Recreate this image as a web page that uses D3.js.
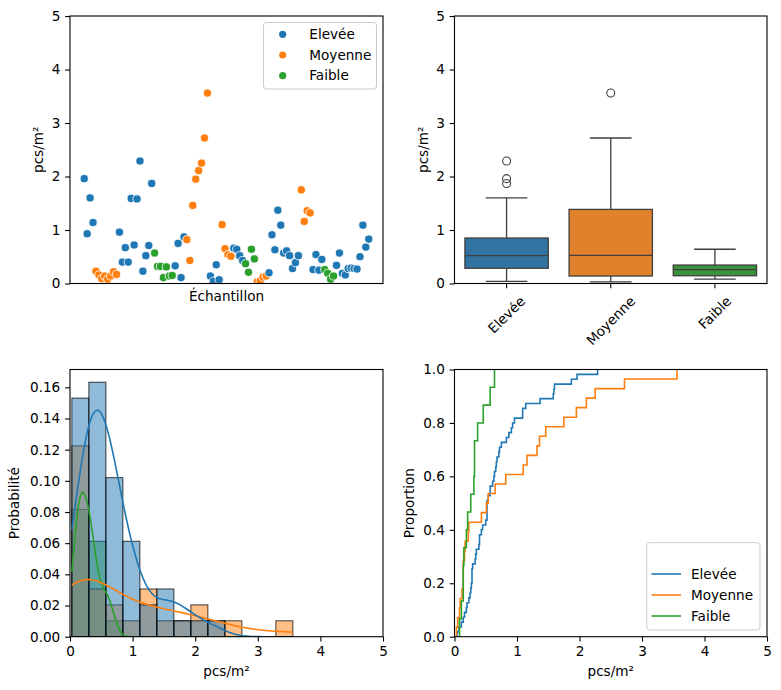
<!DOCTYPE html>
<html><head><meta charset="utf-8">
<script src="https://cdn.jsdelivr.net/npm/d3@7"></script>
<style>body{margin:0;background:#fff}</style>
</head><body><svg id="c" width="781" height="690"></svg>
<script>
// ---------------- data ----------------
const categories = ["Elevée", "Moyenne", "Faible"];
const categoryColors = ["#1f77b4", "#ff7f0e", "#2ca02c"];
const boxColors = ["#3274a1", "#e1812c", "#3a923a"];
// category index of each sample, in sample order
const sampleCategory = [
  0,0,0,0,
  1,1,1,1,1,1,1,1,
  0,0,0,0,0,0,0,0,0,0,0,0,
  2,2,2,2,2,2,2,
  0,0,0,0,
  1,1,1,1,1,1,1,1,
  0,0,0,0,
  1,1,1,1,
  0,0,0,0,
  2,2,2,2,
  1,1,1,1,
  0,0,0,0,0,0,0,0,0,0,0,
  1,1,1,1,
  0,0,0,0,
  2,2,2,2,
  0,0,0,0,0,0,0,0,0,0,0,0
];
// pcs/m² of each sample
const sampleValue = [
  1.96,0.93,1.60,1.14,
  0.23,0.16,0.09,0.14,0.08,0.14,0.22,0.17,
  0.96,0.40,0.67,0.40,1.59,0.72,1.58,2.29,0.23,0.52,0.71,1.87,
  0.57,0.32,0.32,0.11,0.31,0.14,0.15,
  0.33,0.75,0.11,0.87,
  0.82,0.43,1.46,1.95,2.11,2.25,2.72,3.56,
  0.14,0.04,0.35,0.07,
  1.10,0.65,0.54,0.51,
  0.66,0.64,0.52,0.43,
  0.37,0.21,0.64,0.46,
  0.03,0.05,0.12,0.14,
  0.20,0.91,0.63,1.37,1.09,0.57,0.61,0.52,0.28,0.39,0.52,
  1.75,1.16,1.36,1.32,
  0.26,0.54,0.25,0.45,
  0.26,0.19,0.08,0.14,
  0.34,0.57,0.19,0.16,0.28,0.29,0.28,0.27,0.50,1.09,0.68,0.83
];
const valueTicks = [0, 1, 2, 3, 4, 5];
const probTicks = [0, 0.02, 0.04, 0.06, 0.08, 0.10, 0.12, 0.14, 0.16];
const propTicks = [0, 0.2, 0.4, 0.6, 0.8, 1.0];
const histBinCount = 13;
const labelValue = "pcs/m²";
const labelSample = "Échantillon";
const labelProb = "Probabilité";
const labelProp = "Proportion";

// ---------------- setup ----------------
const FONT = "DejaVu Sans, sans-serif";
const FS = 13.6;
const svg = d3.select("#c");
svg.append("rect").attr("width", 781).attr("height", 690).attr("fill", "#fff");
const TL = {x: 70, y: 16, w: 313, h: 267.5};
const TR = {x: 454.5, y: 16, w: 312.5, h: 267.5};
const BL = {x: 70, y: 369.5, w: 313, h: 267.2};
const BR = {x: 454.5, y: 369.5, w: 312.5, h: 267.2};
const N = sampleValue.length;
const groups = categories.map((c, k) => sampleValue.filter((v, i) => sampleCategory[i] === k));

const defs = svg.append("defs");
function clip(id, p) {
  defs.append("clipPath").attr("id", id).append("rect")
    .attr("x", p.x).attr("y", p.y).attr("width", p.w).attr("height", p.h);
  return "url(#" + id + ")";
}
function styleAxis(g) {
  g.select(".domain").remove();
  g.selectAll("line").attr("stroke", "#000").attr("stroke-width", 1.1);
  g.selectAll("text").attr("font-family", FONT).attr("font-size", FS).attr("fill", "#000");
}
function frame(p) {
  svg.append("rect").attr("x", p.x).attr("y", p.y).attr("width", p.w).attr("height", p.h)
    .attr("fill", "none").attr("stroke", "#000").attr("stroke-width", 1.1);
}
function yLabel(txt, x, p) {
  svg.append("text").attr("transform", `translate(${x},${p.y + p.h / 2}) rotate(-90)`)
    .attr("text-anchor", "middle").attr("font-family", FONT).attr("font-size", FS).text(txt);
}
function xLabel(txt, y, p) {
  svg.append("text").attr("x", p.x + p.w / 2).attr("y", y)
    .attr("text-anchor", "middle").attr("font-family", FONT).attr("font-size", FS).text(txt);
}
const TK = 4.86, PAD = 4.86;

// ---------------- top-left: scatter ----------------
{
  const x = d3.scaleLinear().domain([-0.05 * (N - 1), 1.05 * (N - 1)]).range([TL.x, TL.x + TL.w]);
  const y = d3.scaleLinear().domain([0, 5]).range([TL.y + TL.h, TL.y]);
  const g = svg.append("g").attr("clip-path", clip("cTL", TL));
  g.selectAll("circle").data(sampleValue).join("circle")
    .attr("cx", (d, i) => x(i)).attr("cy", d => y(d)).attr("r", 4.1)
    .attr("fill", (d, i) => categoryColors[sampleCategory[i]])
    .attr("stroke", "#fff").attr("stroke-width", 0.8);
  const ay = svg.append("g").attr("transform", `translate(${TL.x},0)`)
    .call(d3.axisLeft(y).tickValues(valueTicks).tickFormat(d3.format("d")).tickSize(TK).tickPadding(PAD));
  styleAxis(ay);
  frame(TL);
  yLabel(labelValue, 43, TL);
  xLabel(labelSample, 300.5, TL);
  // legend
  const lg = svg.append("g");
  lg.append("rect").attr("x", 263.5).attr("y", 22.5).attr("width", 113).attr("height", 66.5)
    .attr("rx", 3).attr("fill", "#fff").attr("fill-opacity", 0.8).attr("stroke", "#cccccc");
  categories.forEach((c, k) => {
    const cy = 34.3 + k * 20.7;
    lg.append("circle").attr("cx", 282.7).attr("cy", cy).attr("r", 3.6).attr("fill", categoryColors[k]);
    lg.append("text").attr("x", 309.3).attr("y", cy).attr("dy", "0.35em")
      .attr("font-family", FONT).attr("font-size", FS).text(c);
  });
}

// ---------------- top-right: box plot ----------------
{
  const x = d3.scaleBand().domain(categories).range([TR.x, TR.x + TR.w]).padding(0);
  const y = d3.scaleLinear().domain([0, 5]).range([TR.y + TR.h, TR.y]);
  const bw = x.bandwidth() * 0.8;
  const LC = "#3f3f3f", LW = 1.3;
  const g = svg.append("g").attr("clip-path", clip("cTR", TR));
  categories.forEach((c, k) => {
    const vals = groups[k].slice().sort(d3.ascending);
    const q1 = d3.quantile(vals, 0.25), med = d3.quantile(vals, 0.5), q3 = d3.quantile(vals, 0.75);
    const iqr = q3 - q1;
    const lo = d3.min(vals.filter(v => v >= q1 - 1.5 * iqr));
    const hi = d3.max(vals.filter(v => v <= q3 + 1.5 * iqr));
    const out = vals.filter(v => v < lo || v > hi);
    const cx = x(c) + x.bandwidth() / 2;
    g.append("line").attr("x1", cx).attr("x2", cx).attr("y1", y(q1)).attr("y2", y(lo)).attr("stroke", LC).attr("stroke-width", LW);
    g.append("line").attr("x1", cx).attr("x2", cx).attr("y1", y(q3)).attr("y2", y(hi)).attr("stroke", LC).attr("stroke-width", LW);
    g.append("line").attr("x1", cx - bw / 4).attr("x2", cx + bw / 4).attr("y1", y(lo)).attr("y2", y(lo)).attr("stroke", LC).attr("stroke-width", LW);
    g.append("line").attr("x1", cx - bw / 4).attr("x2", cx + bw / 4).attr("y1", y(hi)).attr("y2", y(hi)).attr("stroke", LC).attr("stroke-width", LW);
    g.append("rect").attr("x", cx - bw / 2).attr("width", bw).attr("y", y(q3)).attr("height", y(q1) - y(q3))
      .attr("fill", boxColors[k]).attr("stroke", LC).attr("stroke-width", LW);
    g.append("line").attr("x1", cx - bw / 2).attr("x2", cx + bw / 2).attr("y1", y(med)).attr("y2", y(med)).attr("stroke", LC).attr("stroke-width", LW);
    g.selectAll(null).data(out).join("circle").attr("cx", cx).attr("cy", d => y(d)).attr("r", 4)
      .attr("fill", "none").attr("stroke", LC).attr("stroke-width", 1.1);
  });
  const ay = svg.append("g").attr("transform", `translate(${TR.x},0)`)
    .call(d3.axisLeft(y).tickValues(valueTicks).tickFormat(d3.format("d")).tickSize(TK).tickPadding(PAD));
  styleAxis(ay);
  const ax = svg.append("g").attr("transform", `translate(0,${TR.y + TR.h})`)
    .call(d3.axisBottom(x).tickSize(TK).tickPadding(PAD));
  styleAxis(ax);
  const top = TK + PAD;
  ax.selectAll(".tick text").each(function () {
    const t = d3.select(this);
    const w = this.getComputedTextLength();
    const hgt = FS * 1.16;
    const H = (w + hgt) * Math.SQRT1_2;
    t.attr("y", null).attr("dy", "0.35em").attr("text-anchor", "middle")
      .attr("transform", `translate(0,${top + H / 2}) rotate(-45)`);
  });
  frame(TR);
  yLabel(labelValue, 427.5, TR);
}

// ---------------- bottom-left: histogram + kde ----------------
{
  const x = d3.scaleLinear().domain([0, 5]).range([BL.x, BL.x + BL.w]);
  const lo = d3.min(sampleValue), hi = d3.max(sampleValue);
  const binW = (hi - lo) / histBinCount;
  const edges = d3.range(1, histBinCount).map(i => lo + i * binW);
  const binner = d3.bin().domain([lo, hi]).thresholds(edges);
  const hists = groups.map(vals => binner(vals).map(b => ({x0: b.x0, x1: b.x1, p: b.length / N})));
  const maxP = d3.max(hists.flat(), d => d.p);
  const y = d3.scaleLinear().domain([0, maxP * 1.05]).range([BL.y + BL.h, BL.y]);
  const g = svg.append("g").attr("clip-path", clip("cBL", BL));
  [2, 1, 0].forEach(k => {
    g.append("g").selectAll("rect").data(hists[k].filter(d => d.p > 0)).join("rect")
      .attr("x", d => x(d.x0)).attr("width", d => x(d.x1) - x(d.x0))
      .attr("y", d => y(d.p)).attr("height", d => y(0) - y(d.p))
      .attr("fill", categoryColors[k]).attr("fill-opacity", 0.5)
      .attr("stroke", "#000").attr("stroke-opacity", 0.75).attr("stroke-width", 1);
  });
  const grid = d3.range(200).map(i => lo + (hi - lo) * i / 199);
  [2, 1, 0].forEach(k => {
    const vals = groups[k];
    const n = vals.length;
    const bwk = d3.deviation(vals) * Math.pow(n, -0.2);
    const pts = grid.map(t => [t, d3.sum(vals, v => Math.exp(-0.5 * ((t - v) / bwk) ** 2)) / (n * bwk * Math.sqrt(2 * Math.PI)) * (n / N) * binW]);
    g.append("path").datum(pts).attr("fill", "none").attr("stroke", categoryColors[k]).attr("stroke-width", 1.6)
      .attr("d", d3.line().x(d => x(d[0])).y(d => y(d[1])));
  });
  const ay = svg.append("g").attr("transform", `translate(${BL.x},0)`)
    .call(d3.axisLeft(y).tickValues(probTicks).tickFormat(d3.format(".2f")).tickSize(TK).tickPadding(PAD));
  styleAxis(ay);
  const ax = svg.append("g").attr("transform", `translate(0,${BL.y + BL.h})`)
    .call(d3.axisBottom(x).tickValues(valueTicks).tickFormat(d3.format("d")).tickSize(TK).tickPadding(PAD));
  styleAxis(ax);
  frame(BL);
  yLabel(labelProb, 19, BL);
  xLabel(labelValue, 676, BL);
}

// ---------------- bottom-right: ECDF ----------------
{
  const x = d3.scaleLinear().domain([0, 5]).range([BR.x, BR.x + BR.w]);
  const y = d3.scaleLinear().domain([0, 1]).range([BR.y + BR.h, BR.y]);
  const g = svg.append("g").attr("clip-path", clip("cBR", BR));
  categories.forEach((c, k) => {
    const vals = groups[k].slice().sort(d3.ascending);
    const n = vals.length;
    const pts = vals.map((v, i) => [v, (i + 1) / n]);
    pts.unshift([vals[0], 0]);
    g.append("path").datum(pts).attr("fill", "none").attr("stroke", categoryColors[k]).attr("stroke-width", 1.6)
      .attr("d", d3.line().curve(d3.curveStepAfter).x(d => x(d[0])).y(d => y(d[1])));
  });
  const ay = svg.append("g").attr("transform", `translate(${BR.x},0)`)
    .call(d3.axisLeft(y).tickValues(propTicks).tickFormat(d3.format(".1f")).tickSize(TK).tickPadding(PAD));
  styleAxis(ay);
  const ax = svg.append("g").attr("transform", `translate(0,${BR.y + BR.h})`)
    .call(d3.axisBottom(x).tickValues(valueTicks).tickFormat(d3.format("d")).tickSize(TK).tickPadding(PAD));
  styleAxis(ax);
  frame(BR);
  yLabel(labelProp, 414, BR);
  xLabel(labelValue, 676, BR);
  const lg = svg.append("g");
  lg.append("rect").attr("x", 646.7).attr("y", 542.7).attr("width", 113.3).attr("height", 87.3)
    .attr("rx", 3).attr("fill", "#fff").attr("fill-opacity", 0.8).attr("stroke", "#cccccc");
  categories.forEach((c, k) => {
    const cy = 574 + k * 21;
    lg.append("line").attr("x1", 651.5).attr("x2", 681).attr("y1", cy).attr("y2", cy)
      .attr("stroke", categoryColors[k]).attr("stroke-width", 1.6);
    lg.append("text").attr("x", 691).attr("y", cy).attr("dy", "0.35em")
      .attr("font-family", FONT).attr("font-size", FS).text(c);
  });
}
</script></body></html>
